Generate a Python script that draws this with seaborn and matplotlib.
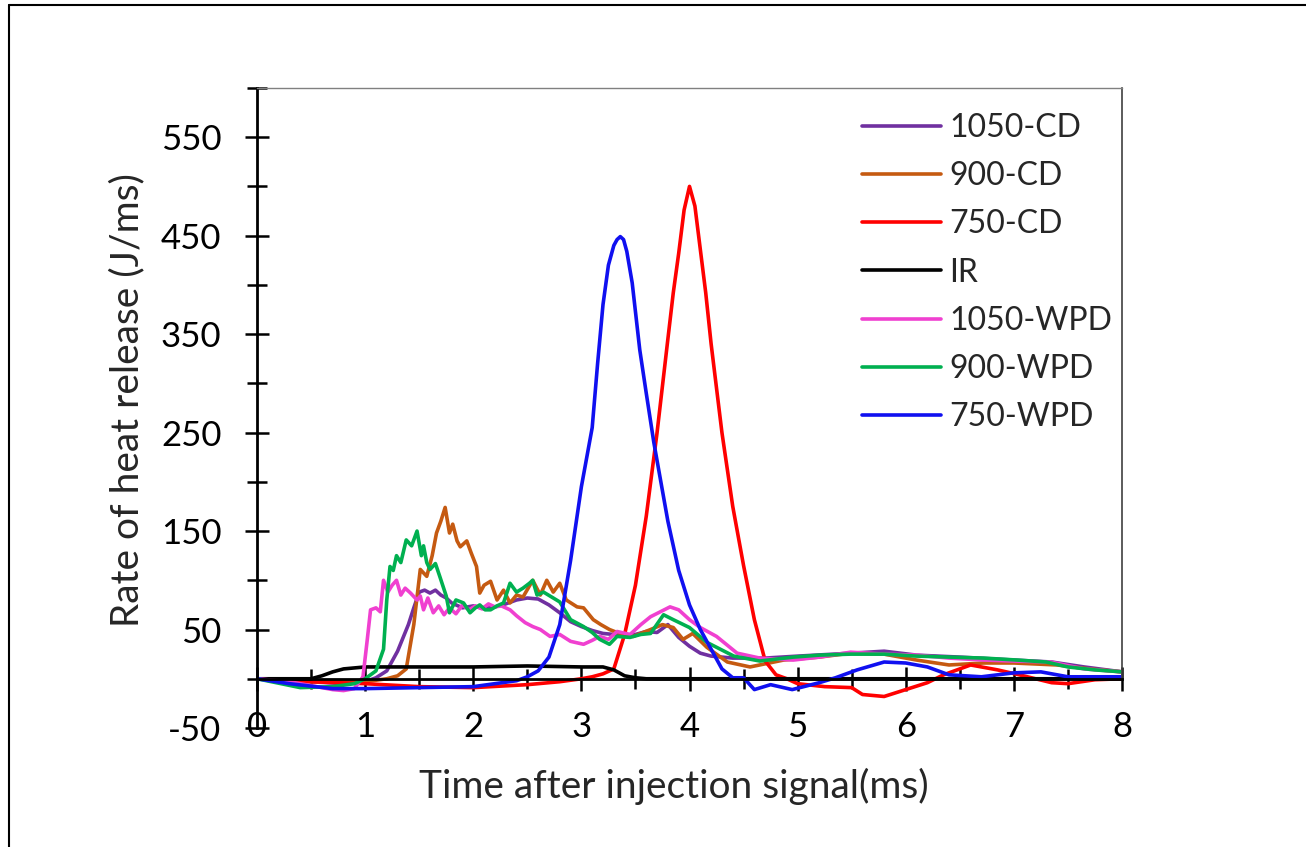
import numpy as np
import pandas as pd
import seaborn as sns
import matplotlib.pyplot as plt
from matplotlib.ticker import MultipleLocator
from matplotlib.lines import Line2D

# ---------------- data ----------------
t_1050cd = [0, 0.5, 0.8, 1.0, 1.1, 1.2, 1.3, 1.4, 1.45, 1.5, 1.55, 1.6, 1.65, 1.7, 1.75, 1.8, 1.9, 2.0, 2.1, 2.2,
            2.3, 2.4, 2.5, 2.6, 2.7, 2.8, 2.9, 3.0, 3.1, 3.2, 3.3, 3.4, 3.5, 3.6, 3.7, 3.8, 3.9, 4.0, 4.1, 4.2,
            4.4, 4.7, 5.0, 5.5, 5.8, 6.1, 6.5, 7.0, 7.35, 7.65, 8.0]
q_1050cd = [0, -3, -5, -3, 1, 8, 28, 55, 72, 88, 90, 87, 90, 85, 82, 77, 72, 74, 71, 73,
            76, 80, 82, 81, 75, 67, 58, 53, 49, 46, 45, 44, 45, 48, 47, 55, 42, 33, 26, 23,
            21, 21, 23, 26, 28, 24, 22, 19, 17, 12, 7]

t_900cd = [0, 0.5, 1.0, 1.2, 1.3, 1.38, 1.45, 1.51, 1.57, 1.62, 1.66, 1.7, 1.74, 1.78, 1.81, 1.85, 1.88, 1.94,
           1.98, 2.03, 2.06, 2.1, 2.16, 2.22, 2.28, 2.34, 2.4, 2.46, 2.55, 2.62, 2.68, 2.74, 2.8, 2.86, 2.96,
           3.02, 3.11, 3.18, 3.26, 3.33, 3.48, 3.64, 3.75, 3.85, 3.94, 4.03, 4.16, 4.35, 4.56, 4.87, 5.2,
           5.49, 5.8, 6.1, 6.4, 6.72, 7.0, 7.4, 7.7, 8.0]
q_900cd = [0, -3, -3, 0, 3, 10, 55, 111, 104, 125, 148, 160, 174, 148, 157, 140, 134, 140,
           128, 114, 87, 95, 99, 80, 90, 77, 85, 83, 100, 85, 100, 88, 97, 80, 73,
           72, 60, 55, 50, 47, 43, 50, 55, 52, 40, 46, 32, 17, 12, 19, 22,
           26, 25, 19, 14, 16, 16, 14, 10, 7]

t_750cd = [0, 0.5, 1.0, 1.5, 2.0, 2.5, 2.8, 3.0, 3.1, 3.2, 3.3, 3.4, 3.5, 3.6, 3.7, 3.8, 3.85, 3.9, 3.95, 4.0,
           4.05, 4.1, 4.15, 4.2, 4.3, 4.4, 4.5, 4.6, 4.7, 4.8, 4.9, 5.0, 5.25, 5.5, 5.6, 5.8, 6.0, 6.2, 6.35,
           6.6, 6.85, 7.05, 7.35, 7.5, 7.75, 8.0]
q_750cd = [0, -3, -5, -8, -9, -6, -3, 0, 2, 5, 10, 45, 95, 165, 250, 345, 392, 432, 476, 500,
           480, 436, 392, 340, 250, 175, 115, 60, 18, 4, 0, -5, -8, -9, -16, -18, -11, -4, 4,
           14, 9, 4, -4, -5, -1, 0]

t_ir = [0, 0.5, 0.6, 0.7, 0.8, 0.9, 1.0, 1.5, 2.0, 2.5, 3.0, 3.2, 3.3, 3.4, 3.5, 3.6, 4.0, 5.0, 6.0, 7.0, 8.0]
q_ir = [0, 0, 3, 7, 10, 11, 12, 12, 12, 13, 12, 12, 9, 3, 1, 0, 0, 0, 0, 0, 0]

t_1050wpd = [0, 0.3, 0.5, 0.7, 0.8, 0.9, 0.98, 1.02, 1.05, 1.1, 1.14, 1.17, 1.21, 1.25, 1.29, 1.33, 1.37, 1.42,
             1.48, 1.51, 1.54, 1.58, 1.63, 1.68, 1.73, 1.78, 1.84, 1.9, 1.96, 2.02, 2.08, 2.14, 2.2, 2.26,
             2.34, 2.4, 2.48, 2.55, 2.62, 2.71, 2.8, 2.9, 3.02, 3.1, 3.17, 3.25, 3.33, 3.45, 3.55, 3.64,
             3.73, 3.82, 3.9, 4.0, 4.1, 4.25, 4.44, 4.65, 4.96, 5.2, 5.49, 5.8, 6.1, 6.4, 6.72, 7.0, 7.34,
             7.65, 8.0]
q_1050wpd = [0, -3, -7, -11, -12, -10, 2, 40, 70, 72, 68, 100, 88, 95, 100, 85, 92, 87,
             80, 84, 70, 82, 67, 74, 65, 72, 66, 75, 70, 74, 71, 76, 73, 74,
             70, 64, 57, 53, 50, 43, 45, 38, 35, 39, 43, 40, 48, 45, 55, 63,
             68, 73, 70, 60, 52, 43, 26, 21, 19, 22, 27, 25, 24, 21, 19, 18, 17,
             10, 7]

t_900wpd = [0, 0.4, 0.7, 0.9, 1.0, 1.1, 1.17, 1.2, 1.23, 1.26, 1.29, 1.33, 1.38, 1.43, 1.48, 1.52, 1.54, 1.57,
            1.6, 1.65, 1.69, 1.75, 1.78, 1.84, 1.91, 1.97, 2.02, 2.06, 2.11, 2.16, 2.22, 2.28, 2.34, 2.4,
            2.46, 2.52, 2.55, 2.59, 2.65, 2.71, 2.8, 2.9, 3.02, 3.1, 3.17, 3.26, 3.33, 3.45, 3.55, 3.64,
            3.76, 3.85, 4.0, 4.16, 4.41, 4.65, 4.96, 5.2, 5.49, 5.8, 6.1, 6.4, 6.72, 7.03, 7.3, 7.5, 7.75, 8.0]
q_900wpd = [0, -9, -8, -5, 0, 8, 30, 80, 114, 110, 125, 118, 141, 135, 150, 125, 135, 118,
            111, 117, 104, 84, 67, 80, 77, 67, 72, 75, 70, 70, 74, 77, 97, 88,
            92, 97, 100, 85, 88, 84, 78, 60, 53, 47, 40, 35, 43, 42, 45, 46,
            65, 60, 52, 37, 23, 18, 22, 24, 25, 25, 23, 22, 21, 19, 17, 12, 9, 7]

t_750wpd = [0, 0.3, 0.7, 1.0, 1.5, 2.0, 2.2, 2.4, 2.5, 2.6, 2.7, 2.8, 2.9, 3.0, 3.1, 3.15, 3.2, 3.25, 3.3, 3.33,
            3.36, 3.39, 3.42, 3.47, 3.54, 3.6, 3.67, 3.8, 3.9, 4.0, 4.1, 4.2, 4.3, 4.4, 4.5, 4.6, 4.75, 4.95,
            5.2, 5.35, 5.55, 5.8, 6.0, 6.2, 6.4, 6.7, 7.0, 7.25, 7.5, 8.0]
q_750wpd = [0, -5, -10, -10, -9, -8, -5, -2, 2, 8, 22, 55, 120, 195, 255, 320, 380, 420, 440, 446,
            449, 446, 434, 402, 334, 290, 240, 160, 110, 75, 50, 30, 10, 1, 1, -11, -6, -11,
            -4, 1, 9, 17, 16, 12, 4, 2, 6, 7, 2, 2]

labels = ["1050-CD", "900-CD", "750-CD", "IR", "1050-WPD", "900-WPD", "750-WPD"]
colors = ["#7030A0", "#C55A11", "#FF0000", "#000000", "#F040D0", "#00B050", "#1010F0"]

series = [(t_1050cd, q_1050cd), (t_900cd, q_900cd), (t_750cd, q_750cd), (t_ir, q_ir),
          (t_1050wpd, q_1050wpd), (t_900wpd, q_900wpd), (t_750wpd, q_750wpd)]

frames = []
for name, (t, q) in zip(labels, series):
    frames.append(pd.DataFrame({"time": t, "hrr": q, "case": name}))
df = pd.concat(frames, ignore_index=True)

# ---------------- plot ----------------
sns.set_style("white")
plt.rcParams["font.family"] = ["Lato", "DejaVu Sans"]
plt.rcParams["axes.unicode_minus"] = False

fig = plt.figure(figsize=(13.06, 8.47), dpi=100)
ax = fig.add_axes([0.1968, 0.1405, 0.6623, 0.7557])

sns.lineplot(data=df, x="time", y="hrr", hue="case", hue_order=labels,
             palette=dict(zip(labels, colors)), estimator=None, sort=False,
             linewidth=2.6, ax=ax)

ax.set_xlim(0, 8)
ax.set_ylim(-50, 600)

ax.set_xticks(range(0, 9))
ax.xaxis.set_minor_locator(MultipleLocator(0.5))
ax.set_yticks(np.arange(-50, 600, 100))
ax.yaxis.set_minor_locator(MultipleLocator(50))

ax.tick_params(axis="both", which="both", direction="inout", width=1.8, colors="black",
               labelsize=25, bottom=True, left=True, top=False, right=False)
ax.tick_params(axis="both", which="major", length=17)
ax.tick_params(axis="both", which="minor", length=14)
ax.tick_params(axis="x", which="major", pad=15)
ax.tick_params(axis="y", which="major", pad=17)

ax.spines["bottom"].set_position(("data", 0))
ax.spines["bottom"].set_linewidth(2)
ax.spines["bottom"].set_color("black")
ax.spines["left"].set_linewidth(2)
ax.spines["left"].set_color("black")
ax.spines["top"].set_linewidth(1)
ax.spines["top"].set_color("#808080")
ax.spines["right"].set_linewidth(1.2)
ax.spines["right"].set_color("#404040")
ax.spines["right"].set_bounds(0, 600)

ax.set_xlabel("Time after injection signal(ms)", fontsize=28)
ax.set_ylabel("Rate of heat release (J/ms)", fontsize=28)
ax.xaxis.set_label_coords(0.482, -0.062)
ax.yaxis.set_label_coords(-0.129, 0.5125)

handles, labs = ax.get_legend_handles_labels()
leg = ax.legend(handles, labs, loc="upper left", bbox_to_anchor=(0.699, 0.961), frameon=False,
                fontsize=23, handlelength=2.5, handletextpad=0.25, labelspacing=0.57,
                borderpad=0, borderaxespad=0)

# outer frame of the picture
fig.add_artist(Line2D([0.007, 0.007], [0.0, 0.994], transform=fig.transFigure, color="black", lw=1.5))
fig.add_artist(Line2D([0.007, 1.0], [0.994, 0.994], transform=fig.transFigure, color="black", lw=1.5))

fig.savefig("out.png", dpi=100)
